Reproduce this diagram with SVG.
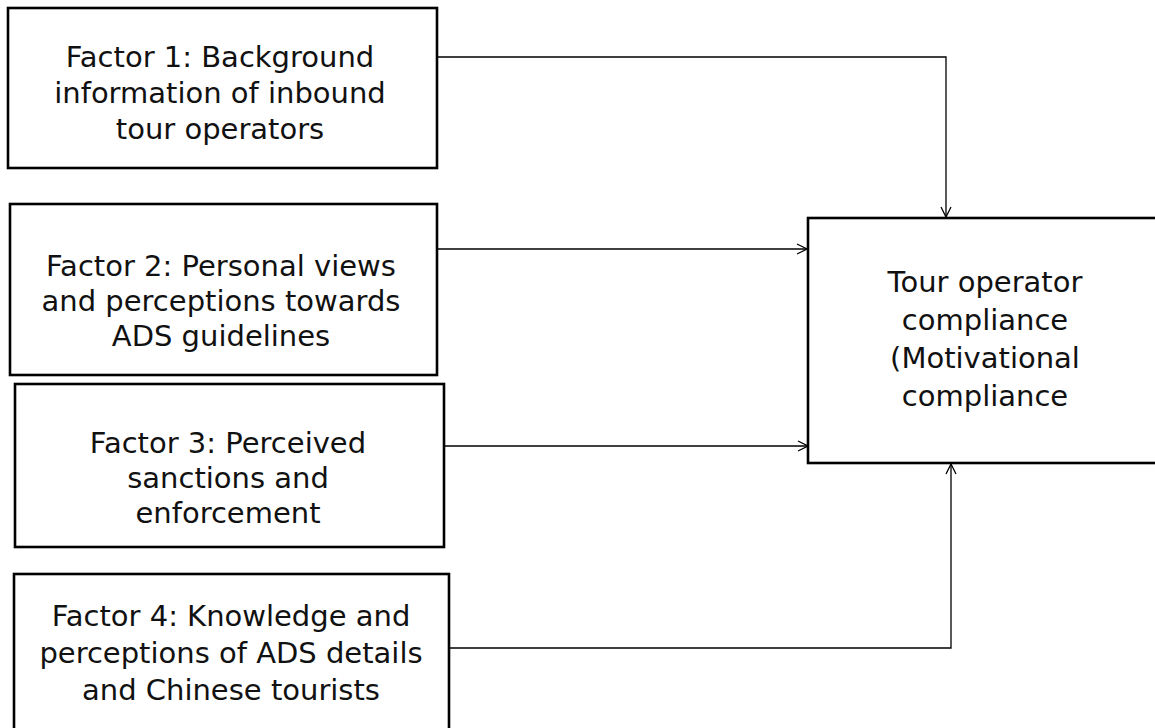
<svg xmlns="http://www.w3.org/2000/svg" width="1155" height="728" viewBox="0 0 1155 728">
<style>
.box{fill:#fff;stroke:#000;stroke-width:2.6}
.t{font-family:"DejaVu Sans",sans-serif;font-size:29px;fill:#111;text-anchor:middle}
.c{fill:none;stroke:#000;stroke-width:1.3}
</style>
<defs>
<marker id="arr" viewBox="0 0 12 12" refX="11" refY="6" markerWidth="12" markerHeight="12" markerUnits="userSpaceOnUse" orient="auto">
<path d="M1,1 L11,6 L1,11" fill="none" stroke="#000" stroke-width="1.3"/>
</marker>
</defs>
<rect width="1155" height="728" fill="#fff"/>
<g id="connectors">
<path class="c" d="M437,57 H946 V217" marker-end="url(#arr)"/>
<path class="c" d="M437,249 H807" marker-end="url(#arr)"/>
<path class="c" d="M444,446 H808" marker-end="url(#arr)"/>
<path class="c" d="M449,648 H951 V464" marker-end="url(#arr)"/>
</g>
<g id="factor1">
<rect class="box" x="8" y="8" width="429" height="160"/>
<text class="t" x="220" y="67">Factor 1: Background</text>
<text class="t" x="220" y="103">information of inbound</text>
<text class="t" x="220" y="139">tour operators</text>
</g>
<g id="factor2">
<rect class="box" x="10" y="204" width="427" height="171"/>
<text class="t" x="221" y="276">Factor 2: Personal views</text>
<text class="t" x="221" y="311">and perceptions towards</text>
<text class="t" x="221" y="346">ADS guidelines</text>
</g>
<g id="factor3">
<rect class="box" x="15" y="384" width="429" height="163"/>
<text class="t" x="228" y="453">Factor 3: Perceived</text>
<text class="t" x="228" y="488">sanctions and</text>
<text class="t" x="228" y="523">enforcement</text>
</g>
<g id="factor4">
<rect class="box" x="14" y="574" width="435" height="170"/>
<text class="t" x="231" y="626">Factor 4: Knowledge and</text>
<text class="t" x="231" y="663">perceptions of ADS details</text>
<text class="t" x="231" y="700">and Chinese tourists</text>
</g>
<g id="target">
<rect class="box" x="808" y="218" width="357" height="245"/>
<text class="t" x="985" y="292">Tour operator</text>
<text class="t" x="985" y="330">compliance</text>
<text class="t" x="985" y="368">(Motivational</text>
<text class="t" x="985" y="406">compliance</text>
</g>
</svg>
